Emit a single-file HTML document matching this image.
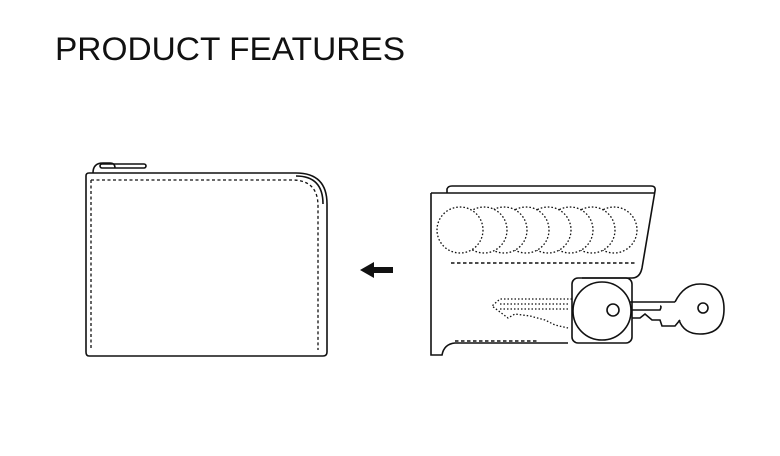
<!DOCTYPE html>
<html><head><style>body{margin:0;background:#fff}svg{display:block}</style></head>
<body>
<svg width="780" height="456" viewBox="0 0 780 456" xmlns="http://www.w3.org/2000/svg">
<text x="55" y="60" font-family="Liberation Sans, sans-serif" font-size="32" fill="#111" textLength="350" lengthAdjust="spacingAndGlyphs">PRODUCT  FEATURES</text>
<g fill="none" stroke="#111" stroke-width="1.6">
<!-- left wallet -->
<path d="M93 173 Q93 163 103 163 L110 163 Q115 163 115 168" />
<rect x="100" y="164" width="46" height="4" rx="2"/>
<path d="M86 176 Q86 173 89 173 L296 173 Q327 173 327 204 L327 352 Q327 356 323 356 L89 356 Q86 356 86 352 Z"/>
<path d="M296 176 Q323 176 323 204" />
<path d="M91 180 L292 180 Q318 180 318 206 L318 350 M91 180 L91 350" stroke-dasharray="3 2.5" stroke-width="1.3"/>
<!-- right wallet -->
<path d="M447 193 L447 189 Q448 186 452 186 L651 186 Q656 186 655 191 L642 268 Q640 278 632 278 L582 278"/>
<path d="M431 193 L655 193"/>
<path d="M431 193 L431 355 L442 355 Q444 344 455 343 L568 343"/>
<rect x="572" y="278" width="60" height="65" rx="6"/>
<g stroke-dasharray="1.6 2" stroke-width="1.3" fill="#fff">
<circle cx="614" cy="230" r="23"/><circle cx="592" cy="230" r="23"/><circle cx="570" cy="230" r="23"/><circle cx="548" cy="230" r="23"/><circle cx="526" cy="230" r="23"/><circle cx="504" cy="230" r="23"/><circle cx="484" cy="230" r="23"/><circle cx="460" cy="230" r="23"/>
</g>
<path d="M451 263 L635 263" stroke-dasharray="3.5 2.5" stroke-width="1.5"/>
<path d="M455 341 L537 341" stroke-dasharray="3.5 2.5" stroke-width="1.5"/>
<path d="M572 299 L500 299 L492 306 L500 312 L508 318 L515 314 L530 316 L545 320 L555 325 L568 328" stroke-dasharray="1.5 2" stroke-width="1.3"/>
<path d="M500 304 L570 304 M500 309 L570 309" stroke-dasharray="1.5 2" stroke-width="1.3"/>
<!-- key -->
<path d="M630 302 L675 302 M630 310 L660 310 Q662 306 660 306 M632 318 L640 318 L645 314 L652 320 L660 320 L662 326 L675 326 L680 320"/>
<circle cx="602" cy="311" r="29" fill="#fff"/>
<circle cx="613" cy="310" r="6"/>
<path d="M675 302 Q684 284 700 284 Q724 284 724 309 Q724 334 700 334 Q684 334 679 320"/>
<circle cx="703" cy="308" r="5"/>
</g>
<path d="M393 267 L374 267 L374 262 L360 270 L374 278 L374 273 L393 273 Z" fill="#111"/>
</svg>
</body></html>
